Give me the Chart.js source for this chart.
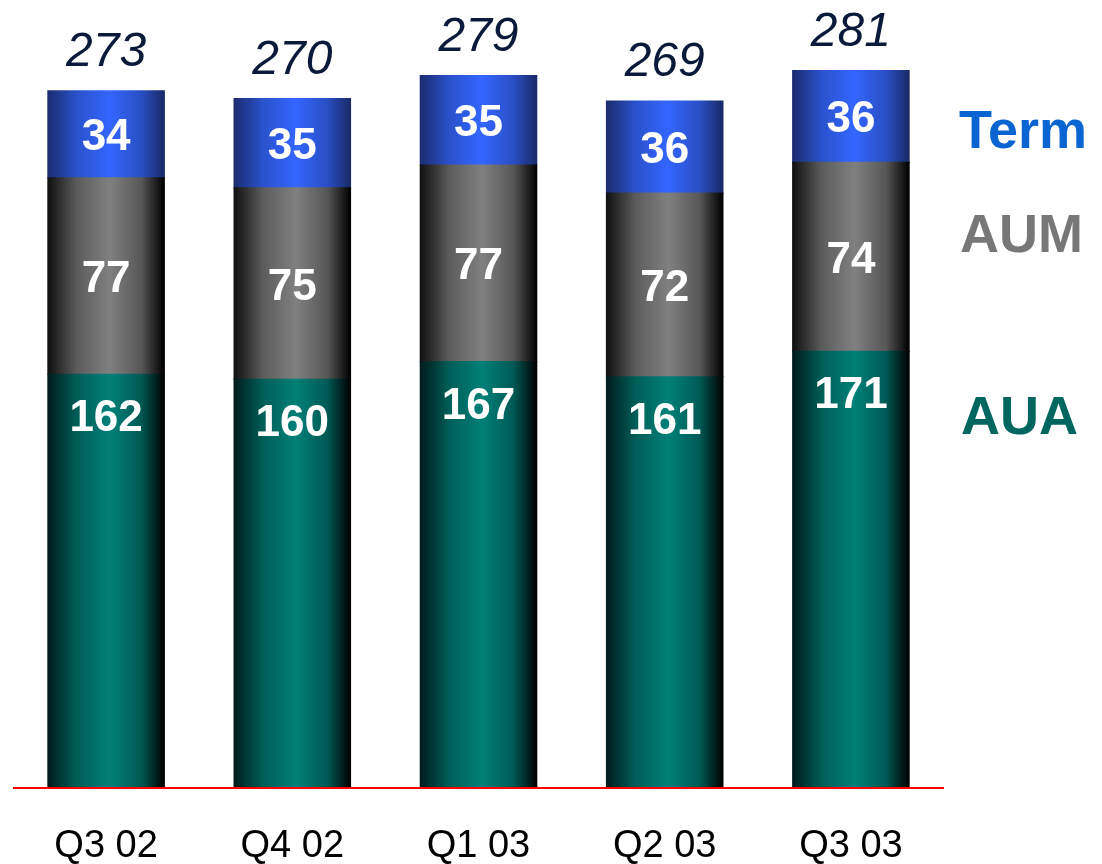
<!DOCTYPE html>
<html>
<head>
<meta charset="utf-8">
<script src="https://cdn.jsdelivr.net/npm/chart.js@4/dist/chart.umd.min.js"></script>
<style>
  html, body { margin: 0; padding: 0; background: #fff; }
  #wrap { width: 1102px; height: 864px; }
</style>
</head>
<body>
<div id="wrap"><canvas id="assets-chart"></canvas></div>
<script>
var quarters = ["Q3 02", "Q4 02", "Q1 03", "Q2 03", "Q3 03"];
var aua = [162, 160, 167, 161, 171];
var aum = [77, 75, 77, 72, 74];
var term = [34, 35, 35, 36, 36];
var totals = [273, 270, 279, 269, 281];

var BAR_PCT = 0.625;

// colour stops across each bar: left edge, shoulder, centre, shoulder, right edge
var shades = {
  aua: ["#001c1c", "#005e58", "#008078", "#005a55", "#000000"],
  aum: ["#101010", "#5c5c5c", "#808080", "#575757", "#000000"],
  term: ["#1b2c70", "#2a52cc", "#3366ff", "#2a4fc4", "#1a2a68"],
};

function barGradient(stops) {
  return function (ctx) {
    var chart = ctx.chart;
    var xs = chart.scales.x;
    if (!xs || !chart.chartArea || ctx.dataIndex === undefined) return stops[2];
    var cx = xs.getPixelForValue(ctx.dataIndex);
    var w = (xs.width / quarters.length) * BAR_PCT;
    var g = chart.ctx.createLinearGradient(cx - w / 2, 0, cx + w / 2, 0);
    g.addColorStop(0, stops[0]);
    g.addColorStop(0.25, stops[1]);
    g.addColorStop(0.53, stops[2]);
    g.addColorStop(0.8, stops[3]);
    g.addColorStop(1, stops[4]);
    return g;
  };
}

// white figures inside the segments, totals on top, series names on the right,
// and the red baseline drawn over the foot of the bars
var labelPlugin = {
  id: "segmentLabels",
  afterDatasetsDraw: function (chart) {
    var ctx = chart.ctx;
    var area = chart.chartArea;
    ctx.save();
    ctx.strokeStyle = "#ff0000";
    ctx.lineWidth = 2;
    ctx.beginPath();
    ctx.moveTo(area.left, area.bottom);
    ctx.lineTo(area.right, area.bottom);
    ctx.stroke();

    ctx.textAlign = "center";
    ctx.textBaseline = "alphabetic";
    ctx.fillStyle = "#ffffff";
    ctx.font = "bold 44px 'Liberation Sans', Arial, sans-serif";
    chart.data.datasets.forEach(function (ds, di) {
      var meta = chart.getDatasetMeta(di);
      meta.data.forEach(function (bar, i) {
        var y;
        if (ds.key === "aua") {
          y = bar.y + 57;
        } else {
          y = (bar.y + bar.base) / 2 + 16;
        }
        ctx.fillText(ds.data[i], bar.x, y);
      });
    });

    var topMeta = chart.getDatasetMeta(chart.data.datasets.length - 1);
    ctx.fillStyle = "#0b1a3a";
    ctx.font = "italic 48px 'Liberation Sans', Arial, sans-serif";
    topMeta.data.forEach(function (bar, i) {
      ctx.fillText(totals[i], bar.x, bar.y - 25);
    });

    ctx.textAlign = "left";
    ctx.textBaseline = "middle";
    ctx.font = "bold 54px 'Liberation Sans', Arial, sans-serif";
    ctx.fillStyle = "#0a64d2";
    ctx.fillText("Term", 959, 133);
    ctx.fillStyle = "#777777";
    ctx.fillText("AUM", 960, 237);
    ctx.fillStyle = "#006660";
    ctx.fillText("AUA", 961, 419);
    ctx.restore();
  },
};

new Chart(document.getElementById("assets-chart"), {
  type: "bar",
  data: {
    labels: quarters,
    datasets: [
      { key: "aua", label: "AUA", data: aua, backgroundColor: barGradient(shades.aua) },
      { key: "aum", label: "AUM", data: aum, backgroundColor: barGradient(shades.aum) },
      { key: "term", label: "Term", data: term, backgroundColor: barGradient(shades.term) },
    ],
  },
  options: {
    responsive: true,
    maintainAspectRatio: false,
    animation: false,
    layout: { padding: { top: 22, left: 13, right: 158, bottom: 0 } },
    datasets: {
      bar: {
        barPercentage: BAR_PCT,
        categoryPercentage: 1,
        borderWidth: 0,
        inflateAmount: 0.6,
      },
    },
    plugins: {
      legend: { display: false },
      tooltip: { enabled: false },
    },
    scales: {
      x: {
        stacked: true,
        grid: { display: false, drawTicks: false },
        border: { display: false },
        ticks: {
          color: "#000000",
          padding: 36,
          font: { family: "'Liberation Sans', Arial, sans-serif", size: 38 },
        },
        afterFit: function (scale) {
          scale.height = 76;
        },
      },
      y: {
        stacked: true,
        display: false,
        min: 0,
        max: 300,
      },
    },
  },
  plugins: [labelPlugin],
});
</script>
</body>
</html>
